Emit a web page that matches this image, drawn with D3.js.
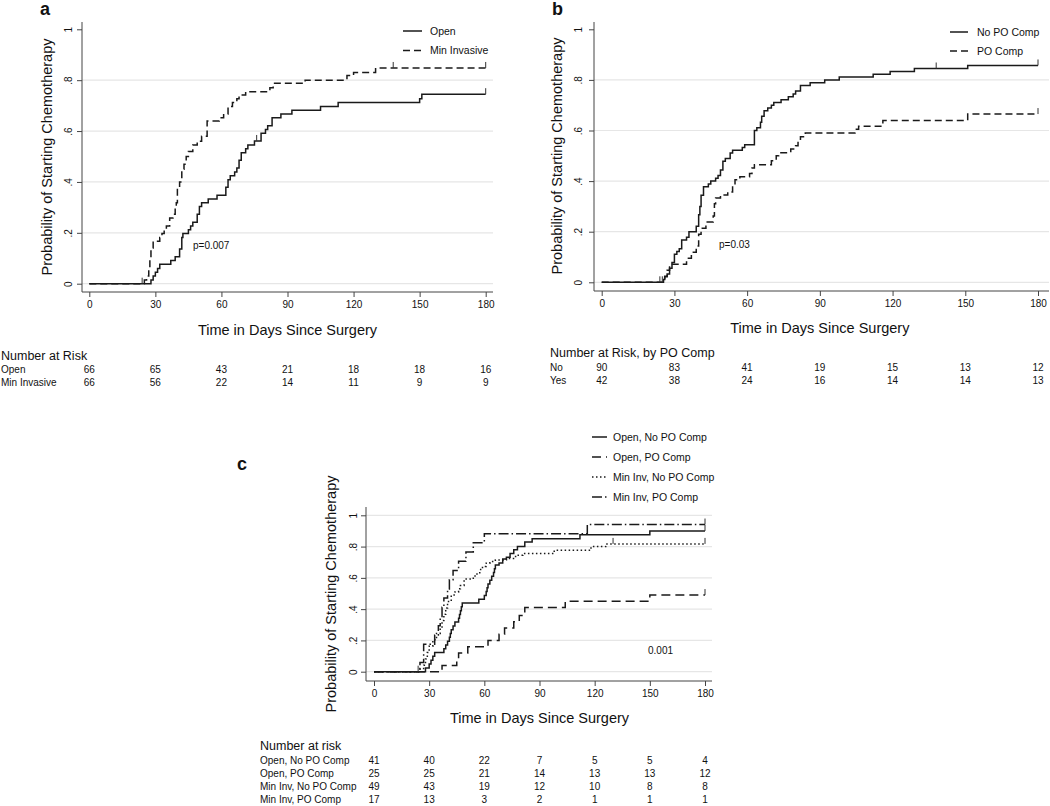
<!DOCTYPE html>
<html lang="en">
<head>
<meta charset="UTF-8">
<title>Kaplan-Meier</title>
<script src="https://d3js.org/d3.v7.min.js"></script>
<style>
    body { margin: 0; background: #fff; }
    svg { font-family: "Liberation Sans", Arial, sans-serif; }
</style>
</head>
<body>
<svg id="chart" width="1050" height="806"></svg>
<script>
// tick values shared by all panels
var dayTicks = [0, 30, 60, 90, 120, 150, 180];
var probTicks = [0, .2, .4, .6, .8, 1];
var probLabels = ["0", ".2", ".4", ".6", ".8", "1"];

// panel a  -  [day, cumulative probability]
var openA = [[28,0.015],[29,0.03],[30,0.045],[31,0.06],[32,0.076],[37,0.091],[39,0.106],[41,0.136],[42,0.182],[42.5,0.197],[45,0.212],[46,0.227],[47,0.242],[49,0.273],[50,0.303],[51,0.318],[54,0.333],[58,0.348],[62,0.379],[63,0.409],[64,0.424],[66,0.439],[67,0.455],[68,0.485],[69,0.515],[71,0.53],[72,0.545],[75,0.561],[78,0.591],[80,0.606],[81,0.621],[83,0.652],[87,0.667],[92,0.682],[105,0.697],[113,0.712],[150,0.727],[151,0.745]];
var minInvA = [[25,0.015],[26,0.03],[27,0.06],[27.5,0.1],[28,0.14],[29,0.167],[32,0.182],[33,0.197],[34,0.212],[35,0.227],[36.5,0.258],[38,0.273],[39,0.303],[39.5,0.318],[40,0.379],[41,0.4],[42,0.45],[43,0.47],[44,0.5],[45,0.52],[47,0.545],[49,0.56],[51,0.58],[53.5,0.64],[59,0.652],[61,0.667],[63,0.697],[65,0.712],[67,0.727],[68,0.742],[71,0.755],[82,0.77],[83.5,0.788],[98,0.8],[117,0.818],[120,0.83],[130,0.848]];
var censorOpenA = [[76,0.561],[180,0.745]];
var censorMinInvA = [[24,0],[138,0.848],[180,0.848]];
var riskOpenA = [66, 65, 43, 21, 18, 18, 16];
var riskMinInvA = [66, 56, 22, 14, 11, 9, 9];

// panel b
var noCompB = [[25.5,0.011],[26,0.022],[27,0.033],[28,0.056],[29,0.078],[30,0.111],[31,0.122],[32,0.133],[33,0.167],[35,0.178],[36,0.2],[39,0.222],[40,0.267],[40.5,0.3],[41,0.344],[42,0.378],[44,0.389],[45,0.4],[47,0.411],[48,0.422],[49,0.444],[50,0.478],[51,0.489],[53,0.511],[54,0.522],[58,0.533],[59,0.544],[63,0.6],[64,0.611],[65.5,0.633],[66,0.656],[67,0.678],[68.5,0.689],[70,0.7],[71,0.711],[74,0.722],[77,0.733],[79,0.744],[80,0.756],[82,0.778],[86,0.789],[92,0.8],[98,0.811],[112,0.822],[119,0.833],[129,0.845],[151,0.857]];
var poCompB = [[26,0.024],[27,0.048],[28,0.071],[35,0.095],[37,0.119],[39,0.143],[40,0.19],[41,0.214],[43,0.238],[46,0.262],[46.5,0.31],[47,0.333],[49,0.345],[52,0.357],[54,0.38],[55,0.405],[57,0.417],[61,0.43],[62,0.452],[63,0.465],[70,0.48],[72,0.5],[73,0.512],[78,0.527],[80,0.54],[81,0.56],[82,0.575],[84,0.59],[104.5,0.605],[106,0.617],[116,0.64],[151,0.665]];
var censorNoB = [[24,0],[25,0],[138,0.845],[180,0.857]];
var censorPoB = [[180,0.665]];
var riskNoB = [90, 83, 41, 19, 15, 13, 12];
var riskYesB = [42, 38, 24, 16, 14, 14, 13];

// panel c
var openNoC = [[28,0.024],[30,0.049],[31,0.073],[32,0.098],[33,0.122],[38,0.146],[39,0.171],[40,0.195],[41,0.22],[41.5,0.244],[42,0.268],[43,0.293],[44,0.317],[46,0.341],[46.5,0.366],[47,0.39],[47.5,0.415],[48,0.439],[57,0.463],[60,0.488],[61,0.512],[61.5,0.537],[62,0.561],[63,0.585],[64,0.61],[65,0.634],[65.5,0.659],[66,0.683],[68,0.695],[70,0.72],[72,0.732],[74,0.756],[76,0.78],[78,0.8],[82,0.83],[86,0.85],[112,0.875],[150,0.9]];
var openPoC = [[37,0.04],[45,0.08],[46,0.12],[51,0.16],[62,0.2],[68,0.24],[71,0.28],[76,0.32],[79,0.36],[82,0.41],[104,0.45],[150,0.49]];
var minInvNoC = [[25,0.02],[27,0.041],[28,0.082],[29,0.122],[30,0.163],[32,0.204],[34,0.245],[36,0.286],[37,0.327],[38,0.367],[39,0.408],[40,0.449],[42,0.49],[44,0.51],[46,0.531],[47,0.551],[49,0.592],[54,0.612],[56,0.633],[58,0.653],[59,0.673],[61,0.694],[63,0.704],[66,0.714],[72,0.724],[77,0.745],[81,0.755],[98,0.776],[118,0.8],[126,0.817]];
var minInvPoC = [[25,0.059],[27,0.176],[33,0.235],[35,0.294],[36,0.353],[37,0.412],[38,0.471],[40,0.529],[41,0.588],[43,0.647],[46,0.706],[50,0.765],[54,0.824],[60,0.882],[116,0.941]];
var censorC = [[180,0.9],[180,0.49],[130,0.817],[180,0.817],[180,0.941],[24,0]];
var riskOpenNoC = [41, 40, 22, 7, 5, 5, 4];
var riskOpenPoC = [25, 25, 21, 14, 13, 13, 12];
var riskMinInvNoC = [49, 43, 19, 12, 10, 8, 8];
var riskMinInvPoC = [17, 13, 3, 2, 1, 1, 1];

var svg = d3.select("#chart");
var ink = "#1a1a1a";

function drawPanel(p) {
    var g = svg.append("g");
    var x = d3.scaleLinear().domain([0, 180]).range([p.x0, p.x1]);
    var y = d3.scaleLinear().domain([0, 1]).range([p.y0, p.y1]);

    // grid lines
    g.selectAll(".grid").data(p.grid).enter().append("line")
        .attr("x1", p.left).attr("x2", p.right)
        .attr("y1", d => y(d)).attr("y2", d => y(d))
        .attr("stroke", "#e6e6e6").attr("stroke-width", 1.2);

    // axes
    var ax = g.append("g").attr("transform", "translate(0," + p.bottom + ")")
        .call(d3.axisBottom(x).tickValues(dayTicks).tickSize(5).tickPadding(4));
    ax.select(".domain").attr("d", "M" + p.left + ",0H" + p.right).attr("stroke", "#444");
    ax.selectAll(".tick line").attr("stroke", "#444");
    ax.selectAll("text").attr("font-size", 10).attr("fill", "#111").attr("font-family", null);

    var ay = g.append("g").attr("transform", "translate(" + p.left + ",0)")
        .call(d3.axisLeft(y).tickValues(probTicks).tickSize(5).tickFormat((d, i) => probLabels[i]));
    ay.select(".domain").attr("d", "M0," + p.top + "V" + p.bottom).attr("stroke", "#444");
    ay.selectAll(".tick line").attr("stroke", "#444");
    ay.selectAll("text").attr("font-family", null).attr("font-size", 10).attr("fill", "#111")
        .attr("x", null).attr("dy", null)
        .attr("text-anchor", "middle")
        .attr("transform", "translate(" + (p.ylab - p.left) + ",0) rotate(-90)")
        .attr("y", 3.5);

    // titles
    g.append("text").attr("x", (p.x0 + p.x1) / 2).attr("y", p.xtitleY)
        .attr("text-anchor", "middle").attr("font-size", 14.5).attr("fill", "#111")
        .text("Time in Days Since Surgery");
    g.append("text").attr("transform", "translate(" + p.ytitleX + "," + p.ytitleY + ") rotate(-90)")
        .attr("text-anchor", "middle").attr("dy", "0.35em").attr("font-size", 14.5).attr("fill", "#111")
        .text("Probability of Starting Chemotherapy");
    g.append("text").attr("x", p.letter[0]).attr("y", p.letter[1])
        .attr("font-size", 18).attr("font-weight", "bold").attr("fill", "#111").text(p.name);

    // curves
    var line = d3.line().x(d => x(d[0])).y(d => y(d[1])).curve(d3.curveStepAfter);
    p.series.forEach(function (s) {
        var pts = [[0, 0]].concat(s.data);
        pts.push([180, s.data[s.data.length - 1][1]]);
        g.append("path").attr("d", line(pts)).attr("fill", "none")
            .attr("stroke", ink).attr("stroke-width", s.w || 1.5)
            .attr("stroke-dasharray", s.dash);
    });
    g.selectAll(".cens").data(p.censor).enter().append("line")
        .attr("x1", d => x(d[0])).attr("x2", d => x(d[0]))
        .attr("y1", d => y(d[1])).attr("y2", d => y(d[1]) - 6)
        .attr("stroke", "#333").attr("stroke-width", 1);

    // p-value
    g.append("text").attr("x", p.pval[0]).attr("y", p.pval[1]).attr("font-size", 10)
        .attr("fill", "#111").text(p.pval[2]);

    // legend
    p.series.forEach(function (s, i) {
        var ly = p.legend.y + i * p.legend.step;
        g.append("line").attr("x1", p.legend.x).attr("x2", p.legend.x + p.legend.len)
            .attr("y1", ly).attr("y2", ly).attr("stroke", ink).attr("stroke-width", 1.5)
            .attr("stroke-dasharray", s.legendDash || s.dash);
        g.append("text").attr("x", p.legend.x + p.legend.len + p.legend.gap).attr("y", ly)
            .attr("dy", "0.35em").attr("font-size", 10.5).attr("fill", "#111").text(s.label);
    });

    // number at risk table
    g.append("text").attr("x", p.risk.x).attr("y", p.risk.headY).attr("font-size", 12.5)
        .attr("fill", "#111").text(p.risk.title);
    p.risk.rows.forEach(function (r, i) {
        var ry = p.risk.rowY + i * p.risk.step;
        g.append("text").attr("x", p.risk.labelX).attr("y", ry).attr("font-size", 10)
            .attr("fill", "#111").text(r.label);
        g.selectAll(null).data(r.values).enter().append("text")
            .attr("x", (d, j) => x(dayTicks[j])).attr("y", ry)
            .attr("text-anchor", "middle").attr("font-size", 10).attr("fill", "#111")
            .text(d => d);
    });
}

drawPanel({
    name: "a", letter: [40, 15],
    x0: 89.3, x1: 485.7, y0: 283.7, y1: 29.3,
    left: 82, right: 493, top: 22, bottom: 292,
    ylab: 68, ytitleX: 47, ytitleY: 157, xtitleY: 335,
    grid: [0, .2, .4, .6, .8],
    series: [
        { label: "Open", data: openA, dash: null },
        { label: "Min Invasive", data: minInvA, dash: "7,4" }
    ],
    censor: censorOpenA.concat(censorMinInvA),
    pval: [193, 249, "p=0.007"],
    legend: { x: 403, y: 31, step: 19.5, len: 19, gap: 8 },
    risk: { title: "Number at Risk", x: 1, headY: 360, labelX: 1, rowY: 372.5, step: 13,
        rows: [{ label: "Open", values: riskOpenA }, { label: "Min Invasive", values: riskMinInvA }] }
});

drawPanel({
    name: "b", letter: [552, 15],
    x0: 601.7, x1: 1038, y0: 282.3, y1: 29.3,
    left: 594, right: 1049, top: 22, bottom: 291,
    ylab: 578, ytitleX: 557, ytitleY: 156, xtitleY: 333,
    grid: [0, .2, .4, .6, .8],
    series: [
        { label: "No PO Comp", data: noCompB, dash: null },
        { label: "PO Comp", data: poCompB, dash: "7,4" }
    ],
    censor: censorNoB.concat(censorPoB),
    pval: [719, 248, "p=0.03"],
    legend: { x: 950, y: 32, step: 19, len: 18, gap: 9 },
    risk: { title: "Number at Risk, by PO Comp", x: 550, headY: 357, labelX: 550, rowY: 370.5, step: 13,
        rows: [{ label: "No", values: riskNoB }, { label: "Yes", values: riskYesB }] }
});

drawPanel({
    name: "c", letter: [237, 470],
    x0: 374, x1: 705, y0: 671.7, y1: 515.3,
    left: 366, right: 712, top: 507, bottom: 681,
    ylab: 353, ytitleX: 331, ytitleY: 594, xtitleY: 723,
    grid: [0, .2, .4, .6, .8, 1],
    series: [
        { label: "Open, No PO Comp", data: openNoC, dash: null },
        { label: "Open, PO Comp", data: openPoC, dash: "9,5" },
        { label: "Min Inv, No PO Comp", data: minInvNoC, dash: "1.5,2.5" },
        { label: "Min Inv, PO Comp", data: minInvPoC, dash: "10,3,1.5,3", legendDash: null }
    ],
    censor: censorC,
    pval: [648, 654, "0.001"],
    legend: { x: 592, y: 437, step: 20, len: 15, gap: 6 },
    risk: { title: "Number at risk", x: 260, headY: 750, labelX: 260, rowY: 763.5, step: 13,
        rows: [{ label: "Open, No PO Comp", values: riskOpenNoC }, { label: "Open, PO Comp", values: riskOpenPoC },
            { label: "Min Inv, No PO Comp", values: riskMinInvNoC }, { label: "Min Inv, PO Comp", values: riskMinInvPoC }] }
});
</script>
</body>
</html>
